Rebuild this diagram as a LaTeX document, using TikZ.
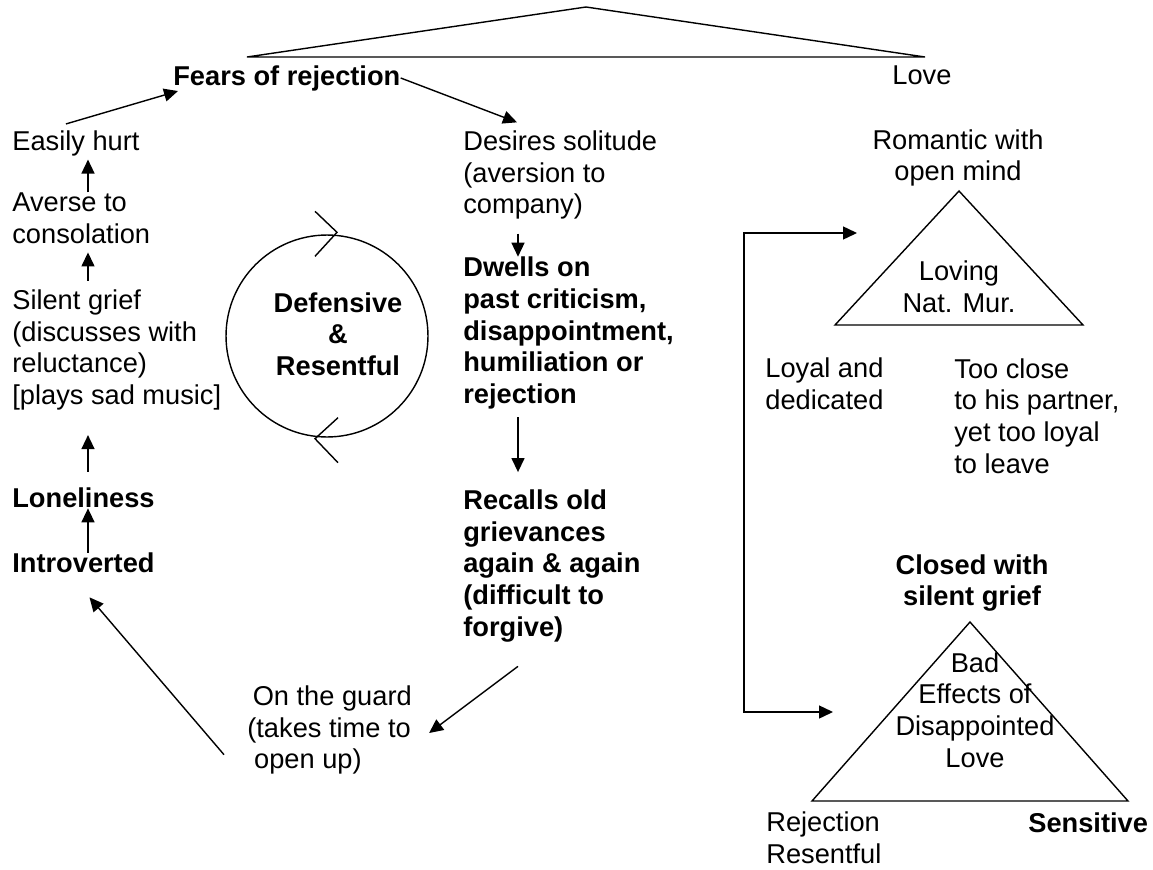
\documentclass[tikz,border=0pt]{standalone}
\usepackage{fontspec}
\setmainfont{Liberation Sans}
\usepackage{tikz}
\usetikzlibrary{arrows.meta, calc, positioning}

\begin{document}
\begin{tikzpicture}[x=0.02cm, y=-0.02cm,
    every node/.style={inner sep=0pt, font=\fontsize{15.5pt}{18pt}\selectfont},
    lbl/.style={anchor=west, align=left},
    blbl/.style={anchor=west, align=left, font=\fontsize{15.5pt}{18pt}\selectfont\bfseries},
    ctr/.style={align=center},
    edge/.style={line width=0.8pt},
    arr/.style={edge, -{Triangle[length=0.28cm, width=0.26cm]}},
    biarr/.style={edge, {Triangle[length=0.28cm, width=0.26cm]}-{Triangle[length=0.28cm, width=0.26cm]}}]
    \useasboundingbox (0,0) rectangle (1153,869);

    % left cycle
    \node[blbl] (fears) at (173,78) {Fears of rejection};
    \node[lbl] (easy) at (12,143) {Easily hurt};
    \node[lbl] (averse) at (12,218) {Averse to\\consolation};
    \node[lbl] (silent) at (12,350) {Silent grief\\(discusses with\\reluctance)\\{[plays sad music]}};
    \node[blbl] (lonely) at (12,498) {Loneliness};
    \node[blbl] (intro) at (12,563) {Introverted};
    \node[lbl] (desires) at (463,175) {Desires solitude\\(aversion to\\company)};
    \node[blbl] (dwells) at (463,333) {Dwells on\\past criticism,\\disappointment,\\humiliation or\\rejection};
    \node[blbl] (recalls) at (463,566) {Recalls old\\grievances\\again \& again\\(difficult to\\forgive)};
    \node[lbl] (guard) at (247,730) {\hspace*{0.2em}On the guard\\(takes time to\\\hspace*{0.25em}open up)};

    % circle in the middle
    \node[draw, circle, edge, minimum size=4.04cm] (loop) at (327,336) {};
    \node[ctr, font=\fontsize{15.5pt}{18pt}\selectfont\bfseries] (defres) at (338,334) {Defensive\\\&\hspace*{0.8em}\\Resentful};
    \draw[edge] ($(loop.north)+(-12,-23)$) -- ($(loop.north)+(10,-2)$) -- ($(loop.north)+(-12,22)$);
    \draw[edge] ($(loop.south)+(11,-20)$) -- ($(loop.south)+(-12,1)$) -- ($(loop.south)+(11,25)$);

    % right side
    \node[lbl] (love) at (892,75) {Love};
    \node[ctr] (romantic) at (958,158) {Romantic with\\open mind};
    \node[ctr] (loving) at (959,287) {Loving\\Nat. Mur.};
    \node[lbl] (loyal) at (765,384) {Loyal and\\dedicated};
    \node[lbl] (close) at (954,416) {Too close\\to his partner,\\yet too loyal\\to leave};
    \node[ctr, font=\fontsize{15.5pt}{18pt}\selectfont\bfseries] (closed) at (972,583) {Closed with\\silent grief};
    \node[ctr] (bad) at (975,710) {Bad\\Effects of\\Disappointed\\Love};
    \node[lbl] (rejres) at (766,838) {Rejection\\Resentful};
    \node[blbl] (sens) at (1028,823) {Sensitive};

    % triangles
    \draw[edge] (247,57) -- (586,7) -- (925,57) -- cycle;
    \draw[edge] (835,325) -- (959,191) -- (1083,325) -- cycle;
    \draw[edge] (812,801) -- (970,622) -- (1128,801) -- cycle;

    % connectors
    \coordinate (lcol) at (88,0);
    \coordinate (mcol) at (518,0);
    \draw[arr, shorten >=2pt] (averse.north -| lcol) -- (easy.south -| lcol);
    \draw[arr, shorten <=5pt, shorten >=5pt] (silent.north -| lcol) -- (averse.south -| lcol);
    \draw[arr, shorten <=9pt, shorten >=14pt] (lonely.north -| lcol) -- (silent.south -| lcol);
    \draw[arr] (intro.north -| lcol) -- (lonely.south -| lcol);
    \draw[arr] ($(easy.north)+(-10,-6)$) -- ($(fears.south west)+(5,0)$);
    \draw[arr] (fears.east) -- ($(desires.north west)+(54,-8)$);
    \draw[arr, shorten <=8pt] (desires.south -| mcol) -- (dwells.north -| mcol);
    \draw[arr, shorten <=4.5pt, shorten >=10pt] (dwells.south -| mcol) -- (recalls.north -| mcol);
    \draw[arr] ($(recalls.south west)+(55,24)$) -- ($(guard.east)+(17,3)$);
    \draw[arr] ($(guard.south west)+(-23,-20)$) -- ($(intro.south)+(6,24)$);

    \coordinate (brtop) at (744,233);
    \coordinate (brbot) at (744,712);
    \coordinate (lovein) at (857,233);
    \coordinate (badin) at (833,712);
    \draw[biarr] (lovein) -- (brtop) -- (brbot) -- (badin);
\end{tikzpicture}
\end{document}
